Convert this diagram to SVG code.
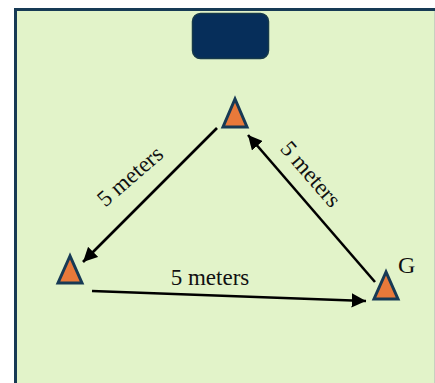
<svg xmlns="http://www.w3.org/2000/svg" width="435" height="383" viewBox="0 0 435 383">
<defs>
<style>
.tri{fill:#e8793a;stroke:#173a55;stroke-width:3;stroke-linejoin:miter}
.lbl{font-family:"Liberation Serif","Times New Roman",serif;font-size:23px;fill:#111}
.conn{stroke:#000;stroke-width:2.6;fill:none}
</style>
<marker id="ah" viewBox="0 0 10 10" refX="10" refY="5" markerWidth="5.5" markerHeight="5.5" markerUnits="strokeWidth" orient="auto">
<path d="M0,0 L10,5 L0,10 Z" fill="#000"/>
</marker>
</defs>
<rect x="0" y="0" width="435" height="383" fill="#ffffff"/>
<rect x="15.5" y="9.5" width="440" height="390" fill="#e2f3c9" stroke="#173a55" stroke-width="3"/>
<line x1="434.5" y1="11" x2="434.5" y2="383" stroke="#c8cfc0" stroke-width="1"/>
<g id="goal">
<rect x="192.5" y="13.5" width="76" height="45" rx="8" fill="#062e5a" stroke="#173a4a" stroke-width="1.5"/>
</g>
<g id="cone-top"><polygon class="tri" points="235,99 223,127 247,127"/></g>
<g id="cone-left"><polygon class="tri" points="70,256 58,283 82,283"/></g>
<g id="cone-g"><polygon class="tri" points="386,272 374,299 398,299"/>
<text class="lbl" x="398" y="273" style="font-size:24px">G</text></g>
<g id="connectors">
<line class="conn" x1="217" y1="128" x2="83" y2="262" marker-end="url(#ah)"/>
<line class="conn" x1="92" y1="291" x2="366" y2="301" marker-end="url(#ah)"/>
<line class="conn" x1="375" y1="282" x2="248" y2="135" marker-end="url(#ah)"/>
<text class="lbl" x="135" y="182" text-anchor="middle" transform="rotate(-41 135 182)">5 meters</text>
<text class="lbl" x="210" y="285" text-anchor="middle">5 meters</text>
<text class="lbl" x="305" y="179" text-anchor="middle" transform="rotate(49 305 179)">5 meters</text>
</g>
</svg>
